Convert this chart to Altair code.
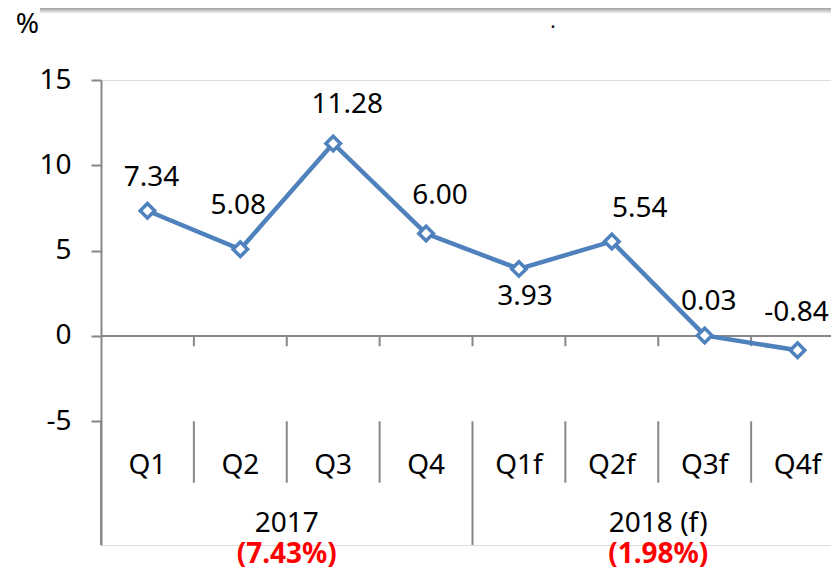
import altair as alt
import pandas as pd

# ---- data ----
quarters = ["Q1", "Q2", "Q3", "Q4", "Q1f", "Q2f", "Q3f", "Q4f"]
growth = [7.34, 5.08, 11.28, 6.00, 3.93, 5.54, 0.03, -0.84]
growth_labels = ["7.34", "5.08", "11.28", "6.00", "3.93", "5.54", "0.03", "-0.84"]
label_side = ["above", "above-high", "above-right", "above-right", "below",
              "right-above", "above", "above-edge"]
years = ["2017", "2018 (f)"]
year_growth = ["(7.43%)", "(1.98%)"]
y_ticks = [-5, 0, 5, 10, 15]

GRAY = "#878787"
BLUE = "#4F81BD"
FONT = "Noto Sans"

n = len(quarters)
df = pd.DataFrame({
    "q": quarters,
    "pos": [i + 0.5 for i in range(n)],
    "v": growth,
    "lab": growth_labels,
    "side": label_side,
})

yr = pd.DataFrame({
    "year": years,
    "pos": [n / 4, 3 * n / 4],
    "g": year_growth,
})

bounds = pd.DataFrame({"b": list(range(1, n))})
short_div = pd.DataFrame({"b": [b for b in range(1, n) if b != n // 2]})
long_div = pd.DataFrame({"b": [0, n // 2]})

Y_MIN, Y_MAX = -12.25, 15
x_scale = alt.Scale(domain=[0, 7.86], nice=False, zero=False)
y_scale = alt.Scale(domain=[Y_MIN, Y_MAX], nice=False, zero=False)


def X(f):
    return alt.X(f, type="quantitative", scale=x_scale, axis=None)


base = alt.Chart(df)

y_axis = alt.Axis(values=y_ticks, grid=False, domainColor=GRAY, domainWidth=2,
                  tickColor=GRAY, tickWidth=2, tickSize=10, labelFontSize=28,
                  labelFont=FONT, labelColor="black", labelPadding=20,
                  labelExpr="toString(datum.value)",
                  title="%", titleAngle=0, titleX=-74, titleY=-56,
                  titleAlign="center", titleBaseline="middle", titleFontSize=28,
                  titleFont=FONT, titleFontWeight="normal", titleColor="black")

# zero line
zero = alt.Chart(pd.DataFrame({"x0": [0], "x1": [n], "y0": [0]})).mark_rule(
    color=GRAY, strokeWidth=2).encode(
    x=X("x0"), x2="x1", y=alt.Y("y0:Q", scale=y_scale, axis=y_axis))

zero_ticks = alt.Chart(bounds).transform_calculate(y0="0", y1="-0.6").mark_rule(
    color=GRAY, strokeWidth=2).encode(
    x=X("b"), y=alt.Y("y0:Q", scale=y_scale), y2="y1:Q")

sdiv = alt.Chart(short_div).transform_calculate(y0="-5", y1="-8.6").mark_rule(
    color=GRAY, strokeWidth=2).encode(
    x=X("b"), y=alt.Y("y0:Q", scale=y_scale), y2="y1:Q")

ldiv = alt.Chart(long_div).transform_calculate(y0="-5", y1=str(Y_MIN)).mark_rule(
    color=GRAY, strokeWidth=2).encode(
    x=X("b"), y=alt.Y("y0:Q", scale=y_scale), y2="y1:Q")

line = base.mark_line(color=BLUE, strokeWidth=4.5).encode(
    x=X("pos"), y=alt.Y("v:Q", scale=y_scale))

pts = base.mark_point(shape="diamond", filled=True, fill="white", stroke=BLUE,
                      strokeWidth=3.5, size=210, opacity=1).encode(
    x=X("pos"), y=alt.Y("v:Q", scale=y_scale))

offsets = {
    "above": (4, -33),
    "above-high": (-2, -43),
    "above-right": (14, -38),
    "right-above": (28, -32),
    "below": (6, 28),
    "above-edge": (-1, -37),
}
labels = []
for side, (dx, dy) in offsets.items():
    labels.append(
        base.transform_filter(alt.datum.side == side).mark_text(
            fontSize=28, font=FONT, color="black", dx=dx, dy=dy,
            baseline="middle", align="center").encode(
            x=X("pos"), y=alt.Y("v:Q", scale=y_scale), text="lab:N"))

qlab = base.transform_calculate(ly="-7.6").mark_text(
    fontSize=28, font=FONT, color="black", baseline="middle").encode(
    x=X("pos"), y=alt.Y("ly:Q", scale=y_scale), text="q:N")

ylab = alt.Chart(yr).transform_calculate(ly="-11.0").mark_text(
    fontSize=28, font=FONT, color="black", baseline="middle").encode(
    x=X("pos"), y=alt.Y("ly:Q", scale=y_scale), text="year:N")

glab = alt.Chart(yr).transform_calculate(ly="-12.85").mark_text(
    fontSize=28, font=FONT, fontWeight="bold", color="#FF0000",
    baseline="middle").encode(
    x=X("pos"), y=alt.Y("ly:Q", scale=y_scale), text="g:N")

# decorative top shadow bar and stray dot from the source slide
shadow = alt.Chart(pd.DataFrame({"a": [0]})).mark_rect(
    color=alt.Gradient(gradient="linear",
                       stops=[alt.GradientStop(color="#A0A0A0", offset=0),
                              alt.GradientStop(color="#FFFFFF", offset=1)],
                       x1=0, x2=0, y1=0, y2=1)).encode(
    x=alt.value(-61), x2=alt.value(740), y=alt.value(-72), y2=alt.value(-66))

dot = alt.Chart(pd.DataFrame({"t": ["."]})).mark_text(
    fontSize=20, font=FONT, color="black", baseline="bottom").encode(
    x=alt.value(452), y=alt.value(-48), text="t:N")

chart = alt.layer(zero, zero_ticks, sdiv, ldiv, line, pts, *labels, qlab, ylab,
                  glab, shadow, dot).properties(
    width=730, height=465,
    autosize=alt.AutoSizeParams(type="none"),
    padding={"left": 93, "top": 72, "right": 0, "bottom": 23},
).configure_view(stroke=None).configure(background="white")

chart.save("out.html", embed_options={"renderer": "svg", "actions": False})
